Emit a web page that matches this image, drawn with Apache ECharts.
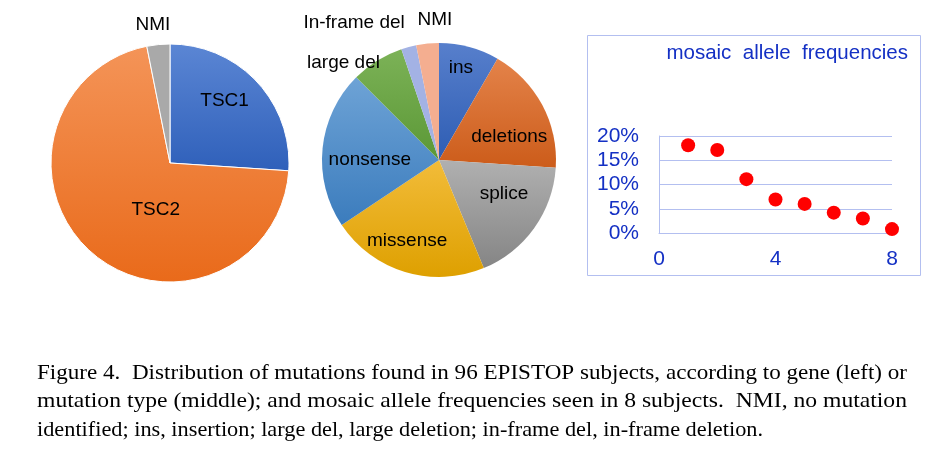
<!DOCTYPE html>
<html>
<head>
<meta charset="utf-8">
<script src="https://cdn.jsdelivr.net/npm/echarts@6/dist/echarts.min.js"></script>
<style>
html,body{margin:0;padding:0;background:#fff;}
#chart{width:951px;height:476px;}
</style>
</head>
<body>
<div id="chart"></div>
<script>
// ---- data ----
var geneCategories = ['TSC1', 'TSC2', 'NMI'];
var geneValues = [25, 68, 3];
var typeCategories = ['ins', 'deletions', 'splice', 'missense', 'nonsense', 'large del', 'In-frame del', 'NMI'];
var typeValues = [8, 17, 17, 21, 21, 7, 2, 3];
var mosaicSubjects = [1, 2, 3, 4, 5, 6, 7, 8];
var mosaicFreq = [18.1, 17.1, 11.1, 6.9, 6.0, 4.2, 3.0, 0.8];
var yTickLabels = ['0%', '5%', '10%', '15%', '20%'];
var xTickLabels = ['0', '4', '8'];
var captionLines = [
  'Figure 4.  Distribution of mutations found in 96 EPISTOP subjects, according to gene (left) or',
  'mutation type (middle); and mosaic allele frequencies seen in 8 subjects.  NMI, no mutation',
  'identified; ins, insertion; large del, large deletion; in-frame del, in-frame deletion.'
];

// ---- styles ----
function grad(c1, c2) {
  return new echarts.graphic.LinearGradient(0, 0, 0, 1, [{offset: 0, color: c1}, {offset: 1, color: c2}]);
}
var geneColors = [grad('#5b86d4', '#2f60ba'), grad('#f49458', '#e96a1a'), '#a9a9a9'];
var geneOffsets = [[9, -20], [27, 0], [-11, -76]];
var typeColors = [
  grad('#577fcc', '#2e5db3'), grad('#e4834a', '#cc5c1a'), grad('#b0b0b0', '#858585'),
  grad('#f2bc3a', '#dea000'), grad('#6ea3d6', '#3b7cbd'), grad('#7cb257', '#5b9836'),
  '#a3b2e4', '#f4ae90'
];
var typeOffsets = [[6, -33], [16, 6], [15, -2], [-14, 22], [-8, 6], [-63, -45], [-69, -78], [2, -79]];

var labelFont = {color: '#000', fontSize: 19, fontFamily: 'Liberation Sans'};

var geneData = geneCategories.map(function (n, i) {
  return {name: n, value: geneValues[i], itemStyle: {color: geneColors[i]},
    label: Object.assign({offset: geneOffsets[i]}, labelFont)};
});
var typeData = typeCategories.map(function (n, i) {
  return {name: n, value: typeValues[i], itemStyle: {color: typeColors[i]},
    label: Object.assign({offset: typeOffsets[i]}, labelFont)};
});

// caption measurement
var cv = document.createElement('canvas').getContext('2d');
var capFont = '22px "Liberation Serif"';
cv.font = capFont;
var capTargets = [870, 870, 726];
var capY = [373, 401, 430];
var captionGraphics = captionLines.map(function (t, i) {
  var w = cv.measureText(t).width;
  return {
    type: 'text', x: 37, y: capY[i], scaleX: capTargets[i] / w, scaleY: 1,
    style: {text: t, font: capFont, fill: '#000', textAlign: 'left', textVerticalAlign: 'middle'}
  };
});

var axisBlue = '#1430c4';
var lineBlue = '#b3bff0';

var chart = echarts.init(document.getElementById('chart'), null, {renderer: 'canvas'});
chart.setOption({
  animation: false,
  backgroundColor: '#fff',
  graphic: [
    {type: 'rect', shape: {x: 587.5, y: 35.5, width: 333, height: 240},
      style: {fill: 'none', stroke: lineBlue, lineWidth: 1}, z: 0},
    {type: 'text', x: 908, y: 53,
      style: {text: 'mosaic  allele  frequencies', font: '20.5px "Liberation Sans"', fill: axisBlue,
        textAlign: 'right', textVerticalAlign: 'middle'}}
  ].concat(captionGraphics),
  grid: {left: 659, right: 59, top: 136, bottom: 243, containLabel: false},
  xAxis: {
    type: 'value', min: 0, max: 8, interval: 4,
    axisLine: {show: true, lineStyle: {color: lineBlue}},
    axisTick: {show: false},
    splitLine: {show: false},
    axisLabel: {color: axisBlue, fontSize: 21, fontFamily: 'Liberation Sans', margin: 16,
      formatter: function (v) { return xTickLabels[v / 4]; }}
  },
  yAxis: {
    type: 'value', min: 0, max: 20, interval: 5,
    axisLine: {show: true, lineStyle: {color: lineBlue}},
    axisTick: {show: false},
    splitLine: {show: true, lineStyle: {color: lineBlue}},
    axisLabel: {color: axisBlue, fontSize: 21, fontFamily: 'Liberation Sans', margin: 20,
      formatter: function (v) { return yTickLabels[v / 5]; }}
  },
  series: [
    {
      type: 'pie', center: [170, 163], radius: 119, startAngle: 90, clockwise: true,
      data: geneData, silent: true,
      itemStyle: {borderColor: '#fff', borderWidth: 1},
      label: {show: true, position: 'inside', formatter: '{b}'},
      labelLine: {show: false}
    },
    {
      type: 'pie', center: [439, 160], radius: 117, startAngle: 90, clockwise: true,
      data: typeData, silent: true,
      itemStyle: {borderWidth: 0},
      label: {show: true, position: 'inside', formatter: '{b}'},
      labelLine: {show: false}
    },
    {
      type: 'scatter', symbol: 'circle', symbolSize: 14,
      itemStyle: {color: '#ff0000', opacity: 1},
      data: mosaicSubjects.map(function (x, i) { return [x, mosaicFreq[i]]; }),
      clip: false
    }
  ]
});
</script>
</body>
</html>
